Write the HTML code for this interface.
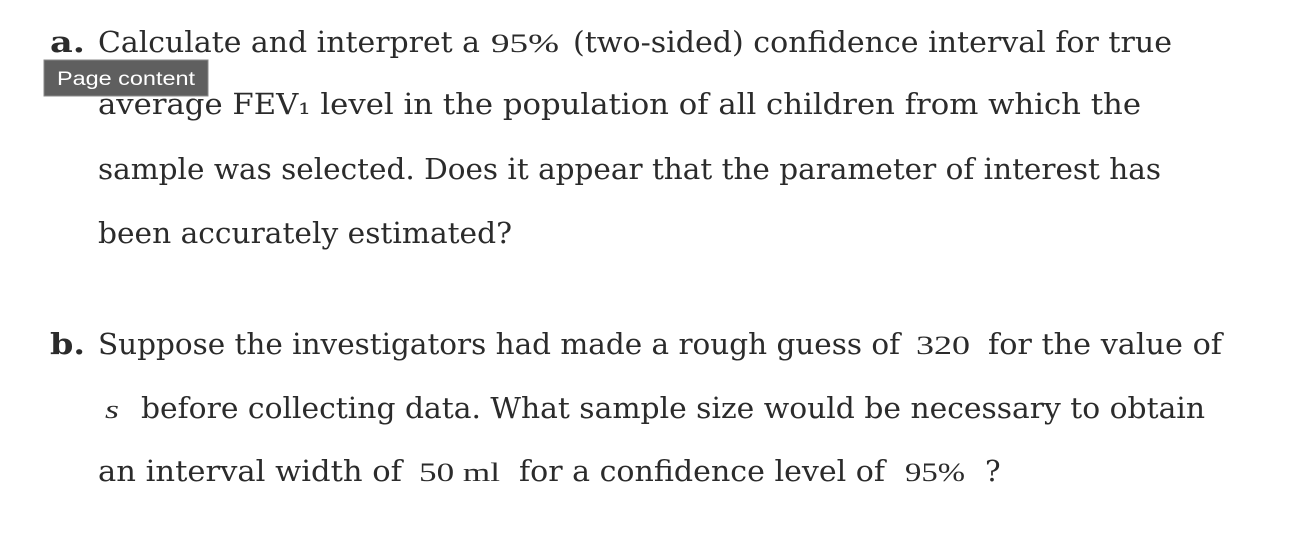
<!DOCTYPE html>
<html><head><meta charset="utf-8"><style>
html,body{margin:0;padding:0;background:#fff;width:1302px;height:552px;overflow:hidden}
svg{display:block}
text{font-family:"DejaVu Serif","Liberation Serif",serif;fill:#2b2b2b;font-size:29px}
.m{font-family:"Liberation Serif",serif;font-size:26px}
.b{font-weight:bold}
.tip{font-family:"Liberation Sans",sans-serif;fill:#fff;font-size:19px}
</style></head><body>
<svg width="1302" height="552">
<g>
<text x="50" y="52" class="b" textLength="35" lengthAdjust="spacingAndGlyphs">a.</text>
<text x="98" y="52" textLength="382" lengthAdjust="spacingAndGlyphs">Calculate and interpret a</text>
<text x="491" y="52" class="m" textLength="68" lengthAdjust="spacingAndGlyphs">95%</text>
<text x="573" y="52" textLength="599" lengthAdjust="spacingAndGlyphs">(two-sided) confidence interval for true</text>
<text x="98" y="114" textLength="1043" lengthAdjust="spacingAndGlyphs">average  FEV₁  level in the population of all children from which the</text>
<text x="98" y="179" textLength="1063" lengthAdjust="spacingAndGlyphs">sample was selected. Does it appear that the parameter of interest has</text>
<text x="98" y="243" textLength="414" lengthAdjust="spacingAndGlyphs">been accurately estimated?</text>
</g>
<g>
<rect x="44" y="60" width="164" height="36" fill="#5f5f5f" stroke="#8a8a8a" stroke-width="1"/>
<text x="57" y="85" class="tip" textLength="138" lengthAdjust="spacingAndGlyphs">Page content</text>
</g>
<g>
<text x="50" y="354" class="b" textLength="35" lengthAdjust="spacingAndGlyphs">b.</text>
<text x="98" y="354" textLength="802" lengthAdjust="spacingAndGlyphs">Suppose the investigators had made a rough guess of</text>
<text x="916" y="354" class="m" textLength="54" lengthAdjust="spacingAndGlyphs">320</text>
<text x="988" y="354" textLength="234" lengthAdjust="spacingAndGlyphs">for the value of</text>
<text x="105" y="418" class="m" font-style="italic" textLength="14" lengthAdjust="spacingAndGlyphs">s</text>
<text x="141" y="418" textLength="1064" lengthAdjust="spacingAndGlyphs">before collecting data. What sample size would be necessary to obtain</text>
<text x="98" y="481" textLength="304" lengthAdjust="spacingAndGlyphs">an interval width of</text>
<text x="419" y="481" class="m" textLength="81" lengthAdjust="spacingAndGlyphs">50 ml</text>
<text x="519" y="481" textLength="366" lengthAdjust="spacingAndGlyphs">for a confidence level of</text>
<text x="905" y="481" class="m" textLength="60" lengthAdjust="spacingAndGlyphs">95%</text>
<text x="985" y="481">?</text>
</g>
</svg>
</body></html>
